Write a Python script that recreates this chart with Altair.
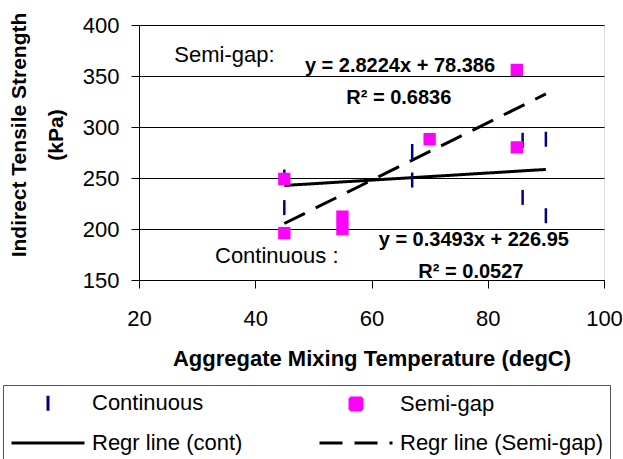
import altair as alt
import pandas as pd
import numpy as np

# ---------------- data ----------------
cont_x = [45, 45, 67, 67, 86, 86, 90, 90]
cont_y = [251, 221, 276, 248, 287, 231, 288, 213]
semi_x = [45, 45, 55, 55, 70, 85, 85]
semi_y = [249, 196, 212, 200, 288, 280, 356]

series = ["Continuous", "Semi-gap", "Regr line (cont)", "Regr line (Semi-gap)"]
series_colors = ["#000080", "#FF00FF", "#000000", "#000000"]

reg_names = ["Regr line (cont)", "Regr line (Semi-gap)"]
reg_slopes = [0.3493, 2.8224]
reg_intercepts = [226.95, 78.386]
reg_x_ends = [45, 90]

label_text = ["Semi-gap:", "Continuous :"]
label_x = [34.7, 43.7]
label_y = [363.7, 166.7]

eq_text = ["y = 2.8224x + 78.386", "R\u00b2 = 0.6836", "y = 0.3493x + 226.95", "R\u00b2 = 0.0527"]
eq_x = [64.9, 64.7, 77.6, 77.1]
eq_y = [354.2, 322.5, 183.6, 152.3]

x_ticks = [20, 40, 60, 80, 100]
y_ticks = [150, 200, 250, 300, 350, 400]

# ---------------- tables ----------------
pts = pd.DataFrame({
    "x": cont_x + semi_x,
    "y": cont_y + semi_y,
    "series": ["Continuous"] * len(cont_x) + ["Semi-gap"] * len(semi_x),
})
reg_rows = []
for name, m, b in zip(reg_names, reg_slopes, reg_intercepts):
    for xv in reg_x_ends:
        reg_rows.append({"x": xv, "y": m * xv + b, "series": name})
reg = pd.DataFrame(reg_rows)
labels_df = pd.DataFrame({"x": label_x, "y": label_y, "t": label_text})
eq_df = pd.DataFrame({"x": eq_x, "y": eq_y, "t": eq_text})

FONT = "Liberation Sans"
# symbol paths (scaled by sqrt(size)/2 = 5 in the legend)
TICK = "M0,-1.5L0,1.5"
SQUARE = "M-1.2,-1.2L1.2,-1.2L1.2,1.2L-1.2,1.2Z"
LINE = "M-7.3,0L7.3,0"

leg = alt.Legend(
    title=None, orient="none", legendX=-136, legendY=360, columns=2,
    direction="horizontal",
    symbolSize=100, symbolStrokeWidth=3, symbolOffset=27,
    labelFont=FONT, labelFontSize=22, labelColor="black", labelOffset=33,
    labelLimit=400, columnPadding=70, rowPadding=15, padding=7,
    strokeColor="#555555", symbolOpacity=1,
)

x_enc = alt.X("x:Q", scale=alt.Scale(domain=[20, 100], nice=False),
              axis=alt.Axis(values=x_ticks, title="Aggregate Mixing Temperature (degC)",
                            grid=False, tickSize=8, tickColor="black", domainColor="black",
                            labelFont=FONT, labelFontSize=22, labelColor="black",
                            labelBaseline="alphabetic", labelPadding=37, labelFlush=False,
                            titleFont=FONT, titleFontSize=22, titleFontWeight="bold",
                            titleColor="black", titleY=85, titleBaseline="alphabetic"))
y_enc = alt.Y("y:Q", scale=alt.Scale(domain=[150, 400], nice=False),
              axis=alt.Axis(values=y_ticks, title=["Indirect Tensile Strength", "(kPa)"],
                            grid=True, gridColor="black", gridWidth=1,
                            tickSize=8, tickColor="black", domainColor="black",
                            labelFont=FONT, labelFontSize=22, labelColor="black",
                            labelPadding=12, labelFlush=False,
                            titleFont=FONT, titleFontSize=21, titleFontWeight="bold",
                            titleColor="black", titleX=-114, titleY=109.5, titleAngle=270,
                            titleAlign="center", titleBaseline="alphabetic", titleLineHeight=37))

fill_enc = alt.Fill("series:N", sort=series, scale=alt.Scale(domain=series, range=series_colors), legend=leg)
stroke_enc = alt.Stroke("series:N", sort=series, scale=alt.Scale(domain=series, range=series_colors), legend=leg)
shape_enc = alt.Shape("series:N", sort=series, scale=alt.Scale(domain=series, range=[TICK, SQUARE, LINE, LINE]), legend=leg)
dash_enc = alt.StrokeDash("series:N", sort=series, scale=alt.Scale(domain=series, range=[[1, 0], [1, 0], [1, 0], [23, 12]]), legend=leg)

base_pts = alt.Chart(pts)
cont_layer = base_pts.transform_filter(alt.datum.series == "Continuous").mark_point(
    size=100, strokeWidth=2.5, opacity=1
).encode(x=x_enc, y=y_enc, fill=fill_enc, stroke=stroke_enc, shape=shape_enc)
semi_layer = base_pts.transform_filter(alt.datum.series == "Semi-gap").mark_point(
    size=67, strokeWidth=2.5, opacity=1
).encode(x=x_enc, y=y_enc, fill=fill_enc, stroke=stroke_enc, shape=shape_enc)

reg_layer = alt.Chart(reg).mark_line(strokeWidth=3).encode(
    x=x_enc, y=y_enc, stroke=stroke_enc, strokeDash=dash_enc
)

lab_layer = alt.Chart(labels_df).mark_text(
    font=FONT, fontSize=22, align="center", baseline="alphabetic", color="black"
).encode(x=x_enc, y=y_enc, text="t:N")
eq_layer = alt.Chart(eq_df).mark_text(
    font=FONT, fontSize=20, fontWeight="bold", align="center", baseline="alphabetic", color="black"
).encode(x=x_enc, y=y_enc, text="t:N")

chart = alt.layer(reg_layer, cont_layer, semi_layer, lab_layer, eq_layer).properties(
    width=465, height=255,
    autosize=alt.AutoSizeParams(type="none"),
    padding={"left": 139, "top": 25, "right": 19, "bottom": 179},
).configure_view(stroke="black", strokeWidth=1).configure(background="white")

chart.save("out.html", embed_options={"renderer": "svg", "actions": False})
